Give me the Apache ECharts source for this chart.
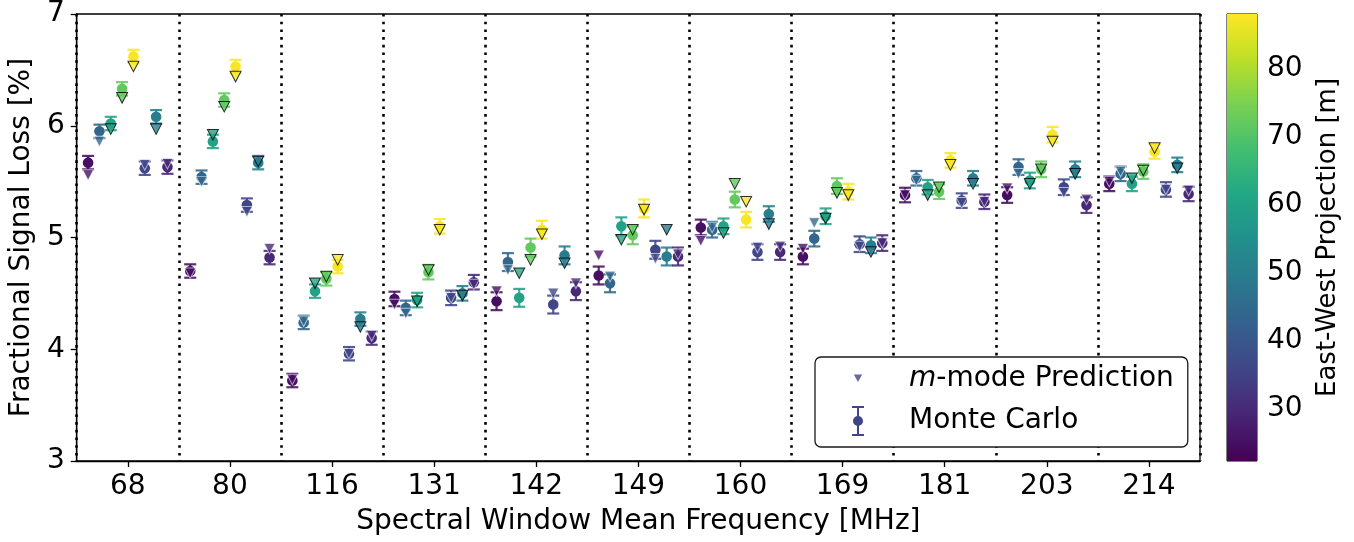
<!DOCTYPE html>
<html>
<head>
<meta charset="utf-8">
<script src="https://cdn.jsdelivr.net/npm/echarts@6/dist/echarts.min.js"></script>
<style>
  html, body { margin: 0; padding: 0; background: #ffffff; }
  #chart { width: 1354px; height: 542px; }
</style>
</head>
<body>
<div id="chart"></div>
<script>
// Spectral windows (mean frequency, MHz)
const freqLabels = ['68', '80', '116', '131', '142', '149', '160', '169', '181', '203', '214'];

// East-West projection of each of the 8 baselines [m]
const ewProjection = [25, 44, 60, 72, 87.5, 36, 50, 30];

// Monte Carlo fractional signal loss [%], one row per spectral window, one column per baseline
const monteCarlo = [
  [5.67, 5.95, 6.02, 6.33, 6.62, 5.62, 6.08, 5.63],
  [4.70, 5.54, 5.86, 6.23, 6.53, 5.29, 5.67, 4.82],
  [3.72, 4.24, 4.52, 4.63, 4.74, 3.96, 4.27, 4.10],
  [4.45, 4.37, 4.44, 4.69, 5.10, 4.46, 4.50, 4.60],
  [4.43, 4.78, 4.46, 4.91, 5.07, 4.40, 4.84, 4.52],
  [4.66, 4.59, 5.10, 5.02, 5.26, 4.89, 4.83, 4.83],
  [5.09, 5.07, 5.10, 5.34, 5.16, 4.87, 5.21, 4.87],
  [4.83, 4.99, 5.19, 5.46, 5.41, 4.94, 4.93, 4.95],
  [5.38, 5.53, 5.45, 5.41, 5.69, 5.33, 5.53, 5.32],
  [5.38, 5.63, 5.51, 5.61, 5.92, 5.45, 5.61, 5.29],
  [5.48, 5.57, 5.48, 5.59, 5.77, 5.43, 5.65, 5.39]
];

// Monte Carlo 1-sigma uncertainty per spectral window [%]
const monteCarloErr = [0.06, 0.06, 0.06, 0.065, 0.08, 0.08, 0.07, 0.07, 0.065, 0.07, 0.065];

// m-mode analytic prediction [%]
const mmodePrediction = [
  [5.56, 5.86, 5.97, 6.25, 6.53, 5.65, 5.97, 5.66],
  [4.68, 5.50, 5.92, 6.17, 6.44, 5.23, 5.68, 4.90],
  [3.73, 4.25, 4.59, 4.65, 4.80, 3.96, 4.20, 4.12],
  [4.40, 4.32, 4.43, 4.71, 5.07, 4.46, 4.48, 4.58],
  [4.52, 4.71, 4.68, 4.80, 5.03, 4.50, 4.77, 4.59],
  [4.84, 4.65, 4.98, 5.07, 5.25, 4.81, 5.07, 4.85],
  [4.97, 5.09, 5.04, 5.48, 5.32, 4.91, 5.12, 4.92],
  [4.90, 5.13, 5.17, 5.40, 5.38, 4.92, 4.87, 4.95],
  [5.38, 5.51, 5.38, 5.45, 5.65, 5.31, 5.48, 5.32],
  [5.44, 5.57, 5.48, 5.61, 5.86, 5.40, 5.57, 5.34],
  [5.50, 5.59, 5.53, 5.60, 5.80, 5.43, 5.62, 5.42]
];

// Colour scale limits and colorbar ticks [m]
const colorRange = [22.4, 88.0];
const colorbarTicks = [30, 40, 50, 60, 70, 80];
const yTicks = [3, 4, 5, 6, 7];

const FONT = 'DejaVu Sans';
const FS = 28;
const VIRIDIS = ['#440154', '#482475', '#414487', '#355f8d', '#2a788e', '#21918c',
                 '#22a884', '#44bf70', '#7ad151', '#bddf26', '#fde725'];

function hexToRgb(h) {
  return [parseInt(h.slice(1, 3), 16), parseInt(h.slice(3, 5), 16), parseInt(h.slice(5, 7), 16)];
}
function viridis(v) {
  let t = (v - colorRange[0]) / (colorRange[1] - colorRange[0]);
  t = Math.max(0, Math.min(1, t));
  const p = t * (VIRIDIS.length - 1);
  const i = Math.min(Math.floor(p), VIRIDIS.length - 2);
  const f = p - i;
  const a = hexToRgb(VIRIDIS[i]), b = hexToRgb(VIRIDIS[i + 1]);
  return 'rgb(' + a.map((c, k) => Math.round(c + (b[k] - c) * f)).join(',') + ')';
}

// baselines are spread across each window's slot
const slotOffset = b => (b - 3.5) * 0.111;

const mcData = [];
const mmData = [];
freqLabels.forEach((_, g) => {
  ewProjection.forEach((ew, b) => {
    const x = g + 0.5 + slotOffset(b);
    mcData.push([x, monteCarlo[g][b], monteCarloErr[g], ew]);
    mmData.push({
      value: [x, mmodePrediction[g][b], ew],
      itemStyle: {
        color: viridis(ew),
        borderColor: ew >= 48 ? '#000000' : 'rgba(255,255,255,0.75)',
        borderWidth: 1
      }
    });
  });
});

const chart = echarts.init(document.getElementById('chart'), null, { renderer: 'canvas' });

const errStyle = c => ({ stroke: c, lineWidth: 2.2, opacity: 0.88 });
const txt = extra => Object.assign({ fontSize: FS, color: '#000', fontFamily: FONT }, extra || {});

const option = {
  animation: false,
  backgroundColor: '#ffffff',
  textStyle: { fontFamily: FONT, color: '#000' },
  grid: [
    { left: 75, top: 14, width: 1125, height: 447, show: true, borderColor: '#000', borderWidth: 1.3, backgroundColor: 'transparent' },
    { left: 1227, top: 14, width: 30, height: 447, show: true, borderColor: '#000', borderWidth: 1, backgroundColor: 'transparent' }
  ],
  xAxis: [
    {
      type: 'category', gridIndex: 0, data: freqLabels, boundaryGap: true,
      axisLine: { show: true, lineStyle: { color: '#000', width: 1.3 } },
      axisTick: { show: true, alignWithLabel: true, length: 6, lineStyle: { color: '#000', width: 1.3 } },
      axisLabel: txt({ interval: 0, margin: 12 }),
      splitLine: { show: true, interval: 0, lineStyle: { color: '#000', width: 2.6, type: [2.6, 5.1] } },
      name: 'Spectral Window Mean Frequency [MHz]', nameLocation: 'middle', nameGap: 47,
      nameTextStyle: txt()
    },
    { type: 'value', gridIndex: 0, min: 0, max: freqLabels.length, show: false },
    { type: 'value', gridIndex: 1, min: 0, max: 1, show: false }
  ],
  yAxis: [
    {
      type: 'value', gridIndex: 0, min: yTicks[0], max: yTicks[yTicks.length - 1], interval: 1,
      axisLine: { show: true, lineStyle: { color: '#000', width: 1.3 } },
      axisTick: { show: true, length: 6, lineStyle: { color: '#000', width: 1.3 } },
      axisLabel: txt({ margin: 12 }),
      splitLine: { show: false },
      name: 'Fractional Signal Loss [%]', nameLocation: 'middle', nameGap: 31,
      nameTextStyle: txt()
    },
    {
      type: 'value', gridIndex: 1, position: 'right', min: colorRange[0], max: colorRange[1],
      axisLine: { show: false },
      axisTick: { show: true, length: 6, customValues: colorbarTicks, lineStyle: { color: '#000', width: 1.3 } },
      axisLabel: txt({ margin: 10, customValues: colorbarTicks }),
      splitLine: { show: false },
      name: 'East-West Projection [m]', nameLocation: 'middle', nameGap: 58,
      nameTextStyle: txt({ fontSize: 26 })
    }
  ],
  legend: {
    orient: 'vertical', left: 815, top: 357,
    padding: [7, 14, 11, 37],
    itemGap: 12, itemWidth: 12, itemHeight: 30,
    backgroundColor: '#ffffff', borderColor: '#1a1a1a', borderWidth: 1.3, borderRadius: 6,
    symbolKeepAspect: true,
    itemStyle: { borderWidth: 0 },
    formatter: name => name === 'm-mode Prediction' ? '{i|m}-mode Prediction' : name,
    textStyle: txt({
      padding: [0, 0, 0, 40],
      rich: { i: txt({ fontStyle: 'italic' }) }
    }),
    data: [
      { name: 'm-mode Prediction', icon: 'path://M0,0 L0.01,0 L0,0.01 Z M12,30 L11.99,30 L12,29.99 Z M1.8,10.5 L10.2,10.5 L6,18 Z' },
      { name: 'Monte Carlo', icon: 'path://M0,0 H12 V2 H0 Z M0,28 H12 V30 H0 Z M5,2 H7 V11 H5 Z M5,19 H7 V28 H5 Z M1,15 A5,5 0 1,1 11,15 A5,5 0 1,1 1,15 Z' }
    ]
  },
  series: [
    {
      name: 'Monte Carlo', type: 'custom', xAxisIndex: 1, yAxisIndex: 0, z: 2,
      itemStyle: { color: '#414487' },
      data: mcData,
      renderItem: (params, api) => {
        const x = api.value(0), y = api.value(1), e = api.value(2);
        const c = viridis(api.value(3));
        const top = api.coord([x, y + e]);
        const bot = api.coord([x, y - e]);
        const mid = api.coord([x, y]);
        const hw = 6;
        return {
          type: 'group',
          children: [
            { type: 'line', shape: { x1: top[0], y1: top[1], x2: bot[0], y2: bot[1] }, style: errStyle(c) },
            { type: 'line', shape: { x1: top[0] - hw, y1: top[1], x2: top[0] + hw, y2: top[1] }, style: errStyle(c) },
            { type: 'line', shape: { x1: bot[0] - hw, y1: bot[1], x2: bot[0] + hw, y2: bot[1] }, style: errStyle(c) },
            { type: 'circle', shape: { cx: mid[0], cy: mid[1], r: 5.3 }, style: { fill: c } }
          ]
        };
      }
    },
    {
      name: 'm-mode Prediction', type: 'scatter', xAxisIndex: 1, yAxisIndex: 0, z: 3,
      symbol: 'path://M0,0 L10,0 L5,10 Z', symbolSize: [11, 10.5],
      itemStyle: { color: '#414487' },
      data: mmData
    },
    {
      name: 'colorbar', type: 'custom', xAxisIndex: 2, yAxisIndex: 1, z: 1, silent: true,
      data: [[0, colorRange[0], 1, colorRange[1]]],
      renderItem: (params, api) => {
        const p0 = api.coord([api.value(0), api.value(3)]);
        const p1 = api.coord([api.value(2), api.value(1)]);
        const stops = VIRIDIS.map((c, i) => ({ offset: 1 - i / (VIRIDIS.length - 1), color: c })).reverse();
        return {
          type: 'rect',
          shape: { x: p0[0], y: p0[1], width: p1[0] - p0[0], height: p1[1] - p0[1] },
          style: { fill: { type: 'linear', x: 0, y: 0, x2: 0, y2: 1, colorStops: stops } }
        };
      }
    }
  ]
};

chart.setOption(option);
</script>
</body>
</html>
